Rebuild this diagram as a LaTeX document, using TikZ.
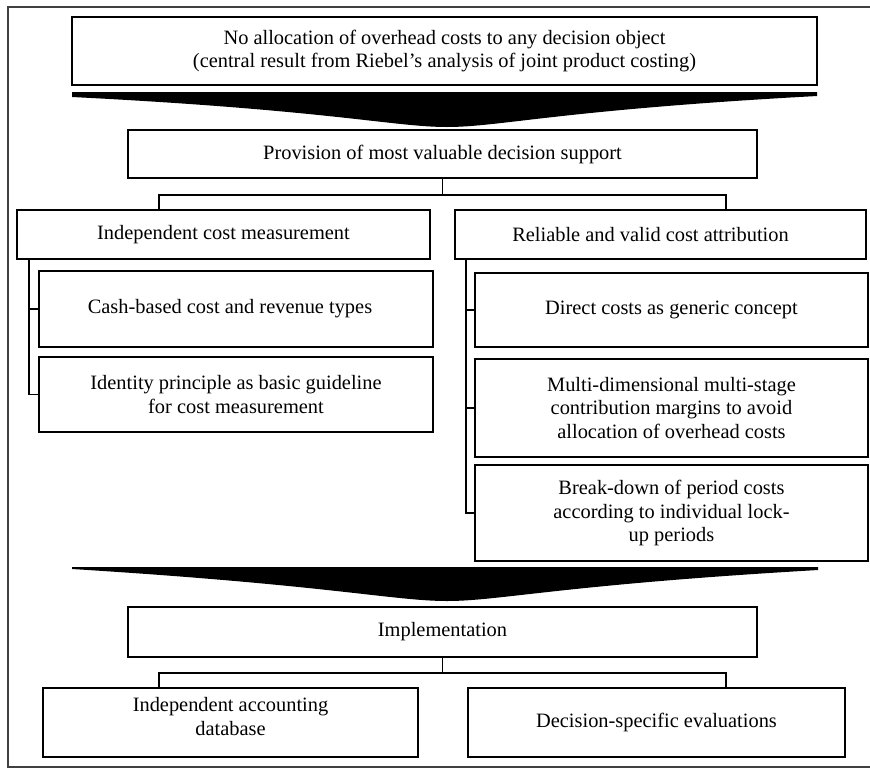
\documentclass[tikz,border=0pt]{standalone}
\usepackage{fontspec}
\setmainfont{Liberation Serif}
\usetikzlibrary{calc}
\begin{document}
\begin{tikzpicture}[x=1pt,y=-1pt,
  box/.style={draw, line width=2.2pt, inner sep=0pt, align=center,
    font=\fontsize{20.4}{23.5}\selectfont},
  conn/.style={draw, line width=1.8pt},
  frameline/.style={draw=black!75, line width=1.8pt},
  bigarrow/.style={fill=black}]
\useasboundingbox (0,0) rectangle (870,769);
% frame
\draw[frameline] (870,7) -- (8,7) -- (8,767) -- (870,767);
% nodes
\node[box, minimum width=745pt, minimum height=68pt] (top) at (444.5,51)
  {No allocation of overhead costs to any decision object\\(central result from Riebel's analysis of joint product costing)};
\node[box, minimum width=629pt, minimum height=48pt] (prov) at (442.5,154)
  {Provision of most valuable decision support};
\node[box, minimum width=413pt, minimum height=49pt] (icm) at (223.5,234.5)
  {Independent cost measurement};
\node[box, minimum width=411pt, minimum height=49pt] (rva) at (660.5,234.5)
  {\hspace*{-20pt}Reliable and valid cost attribution};
\node[box, minimum width=394pt, minimum height=76pt] (cash) at (236,309)
  {\hspace*{-12pt}Cash-based cost and revenue types};
\node[box, minimum width=394pt, minimum height=75pt] (ident) at (236,394.5)
  {Identity principle as basic guideline\\for cost measurement};
\node[box, minimum width=393pt, minimum height=74pt] (direct) at (671.5,310)
  {Direct costs as generic concept};
\node[box, minimum width=393pt, minimum height=98pt] (multi) at (671.5,408)
  {Multi-dimensional multi-stage\\contribution margins to avoid\\allocation of overhead costs};
\node[box, minimum width=393pt, minimum height=96pt] (brk) at (671.5,513)
  {Break-down of period costs\\according to individual lock-\\up periods};
\node[box, minimum width=629pt, minimum height=50pt] (impl) at (442.5,632)
  {Implementation};
\node[box, minimum width=375pt, minimum height=69pt, text depth=12pt] (iad) at (230.5,722.5)
  {Independent accounting\\database};
\node[box, minimum width=377pt, minimum height=69pt] (dse) at (656.5,722.5)
  {Decision-specific evaluations};
% big arrows
\fill[bigarrow] (72,92) -- (817,92) -- (817,96)
  .. controls (560,110) and (500,127) .. (447,127)
  .. controls (394,127) and (330,110) .. (72,97) -- cycle;
\fill[bigarrow] (72,567) -- (818,567) -- (818,570)
  .. controls (560,585) and (500,601) .. (447,601)
  .. controls (394,601) and (330,585) .. (72,569) -- cycle;
% connectors: provision -> level 2
\coordinate (j1) at ($(prov.south)+(0,16)$);
\draw[conn] (prov.south) -- (j1);
\draw[conn] ($(icm.north west)+(143,0)$) |- (j1) -| ($(rva.north west)+(272,0)$);
% left column
\coordinate (lv) at ($(icm.south west)+(13,0)$);
\draw[conn] (lv) |- (ident.west);
\draw[conn] (cash.west -| lv) -- (cash.west);
% right column
\coordinate (rv) at ($(rva.south west)+(12,0)$);
\draw[conn] (rv) |- (brk.west);
\draw[conn] (direct.west -| rv) -- (direct.west);
\draw[conn] (multi.west -| rv) -- (multi.west);
% implementation connectors
\coordinate (j2) at ($(impl.south)+(0,15)$);
\draw[conn] (impl.south) -- (j2);
\draw[conn] ($(iad.north west)+(117,0)$) |- (j2) -| ($(dse.north west)+(259,0)$);
\end{tikzpicture}
\end{document}
